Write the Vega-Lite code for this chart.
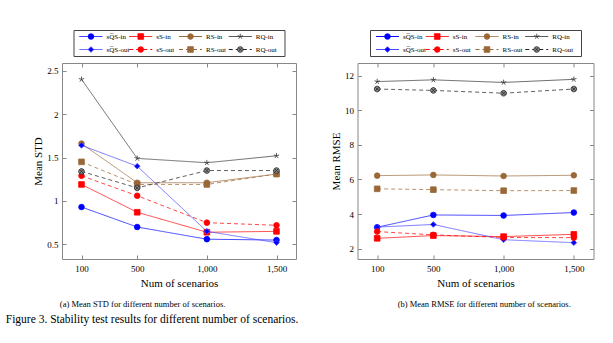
{
  "$schema": "https://vega.github.io/schema/vega-lite/v6.json",
  "background": "white",
  "padding": {"left": 5, "top": 29, "right": 5, "bottom": 5},
  "config": {
    "font": "Liberation Serif",
    "view": {"stroke": null},
    "title": {"font": "Liberation Serif", "fontWeight": "normal", "fontSize": 8.5, "color": "black"},
    "axis": {"labelFont": "Liberation Serif", "titleFont": "Liberation Serif", "labelFontSize": 9, "titleFontSize": 11, "titleFontWeight": "normal", "labelColor": "black", "titleColor": "black", "grid": false, "domain": false, "tickColor": "#888", "tickSize": -4, "tickWidth": 1}
  },
  "datasets": {
    "d": [
      {"metric":"STD","series":"sQ\u0305S-in","method":"sQS","set":"in","n":100,"value":0.93},
      {"metric":"STD","series":"sQ\u0305S-in","method":"sQS","set":"in","n":500,"value":0.70},
      {"metric":"STD","series":"sQ\u0305S-in","method":"sQS","set":"in","n":1000,"value":0.56},
      {"metric":"STD","series":"sQ\u0305S-in","method":"sQS","set":"in","n":1500,"value":0.55},
      {"metric":"STD","series":"sS-in","method":"sS","set":"in","n":100,"value":1.19},
      {"metric":"STD","series":"sS-in","method":"sS","set":"in","n":500,"value":0.87},
      {"metric":"STD","series":"sS-in","method":"sS","set":"in","n":1000,"value":0.64},
      {"metric":"STD","series":"sS-in","method":"sS","set":"in","n":1500,"value":0.65},
      {"metric":"STD","series":"RS-in","method":"RS","set":"in","n":100,"value":1.66},
      {"metric":"STD","series":"RS-in","method":"RS","set":"in","n":500,"value":1.21},
      {"metric":"STD","series":"RS-in","method":"RS","set":"in","n":1000,"value":1.21},
      {"metric":"STD","series":"RS-in","method":"RS","set":"in","n":1500,"value":1.31},
      {"metric":"STD","series":"RQ-in","method":"RQ","set":"in","n":100,"value":2.40},
      {"metric":"STD","series":"RQ-in","method":"RQ","set":"in","n":500,"value":1.49},
      {"metric":"STD","series":"RQ-in","method":"RQ","set":"in","n":1000,"value":1.44},
      {"metric":"STD","series":"RQ-in","method":"RQ","set":"in","n":1500,"value":1.52},
      {"metric":"STD","series":"sQ\u0305S-out","method":"sQS","set":"out","n":100,"value":1.64},
      {"metric":"STD","series":"sQ\u0305S-out","method":"sQS","set":"out","n":500,"value":1.40},
      {"metric":"STD","series":"sQ\u0305S-out","method":"sQS","set":"out","n":1000,"value":0.65},
      {"metric":"STD","series":"sQ\u0305S-out","method":"sQS","set":"out","n":1500,"value":0.52},
      {"metric":"STD","series":"sS-out","method":"sS","set":"out","n":100,"value":1.29},
      {"metric":"STD","series":"sS-out","method":"sS","set":"out","n":500,"value":1.06},
      {"metric":"STD","series":"sS-out","method":"sS","set":"out","n":1000,"value":0.75},
      {"metric":"STD","series":"sS-out","method":"sS","set":"out","n":1500,"value":0.72},
      {"metric":"STD","series":"RS-out","method":"RS","set":"out","n":100,"value":1.45},
      {"metric":"STD","series":"RS-out","method":"RS","set":"out","n":500,"value":1.19},
      {"metric":"STD","series":"RS-out","method":"RS","set":"out","n":1000,"value":1.19},
      {"metric":"STD","series":"RS-out","method":"RS","set":"out","n":1500,"value":1.31},
      {"metric":"STD","series":"RQ-out","method":"RQ","set":"out","n":100,"value":1.34},
      {"metric":"STD","series":"RQ-out","method":"RQ","set":"out","n":500,"value":1.15},
      {"metric":"STD","series":"RQ-out","method":"RQ","set":"out","n":1000,"value":1.35},
      {"metric":"STD","series":"RQ-out","method":"RQ","set":"out","n":1500,"value":1.35},
      {"metric":"RMSE","series":"sQ\u0305S-in","method":"sQS","set":"in","n":100,"value":3.24},
      {"metric":"RMSE","series":"sQ\u0305S-in","method":"sQS","set":"in","n":500,"value":3.95},
      {"metric":"RMSE","series":"sQ\u0305S-in","method":"sQS","set":"in","n":1000,"value":3.92},
      {"metric":"RMSE","series":"sQ\u0305S-in","method":"sQS","set":"in","n":1500,"value":4.09},
      {"metric":"RMSE","series":"sS-in","method":"sS","set":"in","n":100,"value":2.60},
      {"metric":"RMSE","series":"sS-in","method":"sS","set":"in","n":500,"value":2.76},
      {"metric":"RMSE","series":"sS-in","method":"sS","set":"in","n":1000,"value":2.70},
      {"metric":"RMSE","series":"sS-in","method":"sS","set":"in","n":1500,"value":2.83},
      {"metric":"RMSE","series":"RS-in","method":"RS","set":"in","n":100,"value":6.22},
      {"metric":"RMSE","series":"RS-in","method":"RS","set":"in","n":500,"value":6.26},
      {"metric":"RMSE","series":"RS-in","method":"RS","set":"in","n":1000,"value":6.20},
      {"metric":"RMSE","series":"RS-in","method":"RS","set":"in","n":1500,"value":6.24},
      {"metric":"RMSE","series":"RQ-in","method":"RQ","set":"in","n":100,"value":11.65},
      {"metric":"RMSE","series":"RQ-in","method":"RQ","set":"in","n":500,"value":11.75},
      {"metric":"RMSE","series":"RQ-in","method":"RQ","set":"in","n":1000,"value":11.60},
      {"metric":"RMSE","series":"RQ-in","method":"RQ","set":"in","n":1500,"value":11.78},
      {"metric":"RMSE","series":"sQ\u0305S-out","method":"sQS","set":"out","n":100,"value":3.25},
      {"metric":"RMSE","series":"sQ\u0305S-out","method":"sQS","set":"out","n":500,"value":3.40},
      {"metric":"RMSE","series":"sQ\u0305S-out","method":"sQS","set":"out","n":1000,"value":2.52},
      {"metric":"RMSE","series":"sQ\u0305S-out","method":"sQS","set":"out","n":1500,"value":2.35},
      {"metric":"RMSE","series":"sS-out","method":"sS","set":"out","n":100,"value":2.99},
      {"metric":"RMSE","series":"sS-out","method":"sS","set":"out","n":500,"value":2.80},
      {"metric":"RMSE","series":"sS-out","method":"sS","set":"out","n":1000,"value":2.65},
      {"metric":"RMSE","series":"sS-out","method":"sS","set":"out","n":1500,"value":2.64},
      {"metric":"RMSE","series":"RS-out","method":"RS","set":"out","n":100,"value":5.46},
      {"metric":"RMSE","series":"RS-out","method":"RS","set":"out","n":500,"value":5.41},
      {"metric":"RMSE","series":"RS-out","method":"RS","set":"out","n":1000,"value":5.35},
      {"metric":"RMSE","series":"RS-out","method":"RS","set":"out","n":1500,"value":5.36},
      {"metric":"RMSE","series":"RQ-out","method":"RQ","set":"out","n":100,"value":11.22},
      {"metric":"RMSE","series":"RQ-out","method":"RQ","set":"out","n":500,"value":11.14},
      {"metric":"RMSE","series":"RQ-out","method":"RQ","set":"out","n":1000,"value":10.98},
      {"metric":"RMSE","series":"RQ-out","method":"RQ","set":"out","n":1500,"value":11.22}
    ]
  },
  "title": {"text": "Figure 3.  Stability test results for different number of scenarios.", "orient": "bottom", "anchor": "start", "fontSize": 11.5, "offset": 6, "dx": -26.5},
  "spacing": 32.5,
  "hconcat": [
    {
      "bounds": "flush",
      "center": true,
      "spacing": 7,
      "title": {"text": "(a)  Mean STD for different number of scenarios.", "orient": "bottom", "anchor": "middle", "offset": 11, "dx": -22},
      "vconcat": [
        {
          "width": 211, "height": 26,
          "view": {"stroke": "#444", "strokeWidth": 1},
          "data": {"name": "d"},
          "transform": [{"filter": "datum.metric == 'STD' && datum.n == 100"}],
          "encoding": {
            "x": {"field": "method", "type": "nominal", "sort": ["sQS","sS","RS","RQ"], "bandPosition": 0, "scale": {"paddingOuter": 0.12, "paddingInner": 0}, "axis": null},
            "y": {"field": "set", "type": "nominal", "sort": ["in","out"], "scale": {"paddingOuter": 0, "paddingInner": 0}, "axis": null}
          },
          "layer": [
            {"mark": {"type": "rule", "x2Offset": 23, "strokeWidth": 1},
             "encoding": {
               "x2": {"field": "method", "bandPosition": 0},
               "stroke": {"field": "series", "type": "nominal", "legend": null, "scale": {"domain": ["sQ\u0305S-in","sS-in","RS-in","RQ-in","sQ\u0305S-out","sS-out","RS-out","RQ-out"], "range": ["#0000ff","#ff0000","#9a6838","#333333","#4444ff","#ff0000","#9a6838","#222222"]}},
               "strokeDash": {"field": "series", "type": "nominal", "legend": null, "scale": {"domain": ["sQ\u0305S-in","sS-in","RS-in","RQ-in","sQ\u0305S-out","sS-out","RS-out","RQ-out"], "range": [[1,0],[1,0],[1,0],[1,0],[1,0],[4,3],[4,3],[4,3]]}}
             }},
            {"mark": {"type": "point", "filled": true, "xOffset": 11.5, "size": 32, "strokeWidth": 0.8, "opacity": 1},
             "encoding": {
               "fill": {"field": "series", "type": "nominal", "legend": null, "scale": {"domain": ["sQ\u0305S-in","sS-in","RS-in","RQ-in","sQ\u0305S-out","sS-out","RS-out","RQ-out"], "range": ["#0000ff","#ff0000","#9a6838","#333333","#0000ff","#ff0000","#9a6838","#8a8a8a"]}},
               "stroke": {"field": "series", "type": "nominal", "legend": null},
               "shape": {"field": "series", "type": "nominal", "legend": null, "scale": {"domain": ["sQ\u0305S-in","sS-in","RS-in","RQ-in","sQ\u0305S-out","sS-out","RS-out","RQ-out"], "range": ["circle","square","circle","M0,-1L0,0M0.95,-0.31L0,0M0.59,0.81L0,0M-0.59,0.81L0,0M-0.95,-0.31L0,0","diamond","circle","square","M1,0A1,1 0 1,1 -1,0A1,1 0 1,1 1,0ZM-0.7,-0.7L0.7,0.7M-0.7,0.7L0.7,-0.7"]}}
             }},
            {"mark": {"type": "text", "align": "left", "baseline": "middle", "dx": 27, "fontSize": 7, "font": "Liberation Serif", "color": "black"},
             "encoding": {"text": {"field": "series"}}}
          ]
        },
        {
          "width": 234, "height": 196,
          "view": {"stroke": "#888", "strokeWidth": 1},
          "data": {"name": "d"},
          "transform": [{"filter": "datum.metric == 'STD'"}],
          "resolve": {"axis": {"x": "independent", "y": "independent"}},
          "layer": [
            {"mark": {"type": "line", "strokeWidth": 0.9, "opacity": 0.8},
             "encoding": {
               "x": {"field": "n", "type": "quantitative", "scale": {"domain": [-40, 1640], "nice": false, "zero": false}, "axis": {"orient": "bottom", "values": [100,500,1000,1500], "format": ",", "labelExpr": "format(datum.value, ',')", "title": "Num of scenarios", "labelPadding": 9, "titlePadding": 4}},
               "y": {"field": "value", "type": "quantitative", "scale": {"domain": [0.332, 2.588], "nice": false, "zero": false}, "axis": {"orient": "left", "values": [0.5,1,1.5,2,2.5], "format": "~g", "title": "Mean STD", "labelPadding": 8, "titlePadding": 3}},
               "stroke": {"field": "series", "type": "nominal", "legend": null},
               "strokeDash": {"field": "series", "type": "nominal", "legend": null}
             }},
            {"mark": {"type": "point", "filled": true, "size": 32, "strokeWidth": 0.8, "opacity": 1},
             "encoding": {
               "x": {"field": "n", "type": "quantitative", "axis": {"orient": "top", "values": [100,500,1000,1500], "format": ",", "labels": false, "title": null}},
               "y": {"field": "value", "type": "quantitative", "axis": {"orient": "right", "values": [0.5,1,1.5,2,2.5], "format": "~g", "labels": false, "title": null}},
               "fill": {"field": "series", "type": "nominal", "legend": null},
               "stroke": {"field": "series", "type": "nominal", "legend": null},
               "shape": {"field": "series", "type": "nominal", "legend": null}
             }}
          ]
        }
      ]
    },
    {
      "bounds": "flush",
      "center": true,
      "spacing": 7,
      "title": {"text": "(b)  Mean RMSE for different number of scenarios.", "orient": "bottom", "anchor": "middle", "offset": 11, "dx": 22},
      "vconcat": [
        {
          "width": 211, "height": 26,
          "view": {"stroke": "#444", "strokeWidth": 1},
          "data": {"name": "d"},
          "transform": [{"filter": "datum.metric == 'RMSE' && datum.n == 100"}],
          "encoding": {
            "x": {"field": "method", "type": "nominal", "sort": ["sQS","sS","RS","RQ"], "bandPosition": 0, "scale": {"paddingOuter": 0.12, "paddingInner": 0}, "axis": null},
            "y": {"field": "set", "type": "nominal", "sort": ["in","out"], "scale": {"paddingOuter": 0, "paddingInner": 0}, "axis": null}
          },
          "layer": [
            {"mark": {"type": "rule", "x2Offset": 23, "strokeWidth": 1},
             "encoding": {
               "x2": {"field": "method", "bandPosition": 0},
               "stroke": {"field": "series", "type": "nominal", "legend": null},
               "strokeDash": {"field": "series", "type": "nominal", "legend": null}
             }},
            {"mark": {"type": "point", "filled": true, "xOffset": 11.5, "size": 32, "strokeWidth": 0.8, "opacity": 1},
             "encoding": {
               "fill": {"field": "series", "type": "nominal", "legend": null},
               "stroke": {"field": "series", "type": "nominal", "legend": null},
               "shape": {"field": "series", "type": "nominal", "legend": null}
             }},
            {"mark": {"type": "text", "align": "left", "baseline": "middle", "dx": 27, "fontSize": 7, "font": "Liberation Serif", "color": "black"},
             "encoding": {"text": {"field": "series"}}}
          ]
        },
        {
          "width": 236, "height": 196,
          "view": {"stroke": "#888", "strokeWidth": 1},
          "data": {"name": "d"},
          "transform": [{"filter": "datum.metric == 'RMSE'"}],
          "resolve": {"axis": {"x": "independent", "y": "independent"}},
          "layer": [
            {"mark": {"type": "line", "strokeWidth": 0.9, "opacity": 0.8},
             "encoding": {
               "x": {"field": "n", "type": "quantitative", "scale": {"domain": [-40, 1640], "nice": false, "zero": false}, "axis": {"orient": "bottom", "values": [100,500,1000,1500], "format": ",", "labelExpr": "format(datum.value, ',')", "title": "Num of scenarios", "labelPadding": 9, "titlePadding": 4}},
               "y": {"field": "value", "type": "quantitative", "scale": {"domain": [1.407, 12.723], "nice": false, "zero": false}, "axis": {"orient": "left", "values": [2,4,6,8,10,12], "format": "~g", "title": "Mean RMSE", "labelPadding": 8, "titlePadding": 3}},
               "stroke": {"field": "series", "type": "nominal", "legend": null},
               "strokeDash": {"field": "series", "type": "nominal", "legend": null}
             }},
            {"mark": {"type": "point", "filled": true, "size": 32, "strokeWidth": 0.8, "opacity": 1},
             "encoding": {
               "x": {"field": "n", "type": "quantitative", "axis": {"orient": "top", "values": [100,500,1000,1500], "format": ",", "labels": false, "title": null}},
               "y": {"field": "value", "type": "quantitative", "axis": {"orient": "right", "values": [2,4,6,8,10,12], "format": "~g", "labels": false, "title": null}},
               "fill": {"field": "series", "type": "nominal", "legend": null},
               "stroke": {"field": "series", "type": "nominal", "legend": null},
               "shape": {"field": "series", "type": "nominal", "legend": null}
             }}
          ]
        }
      ]
    }
  ]
}
